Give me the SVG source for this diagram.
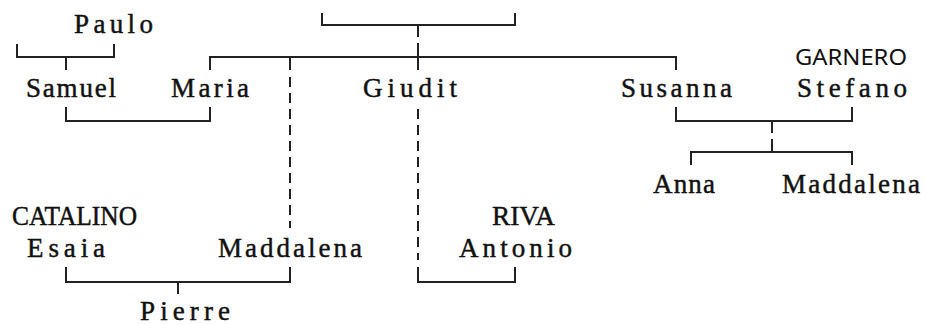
<svg xmlns="http://www.w3.org/2000/svg" width="925" height="325" viewBox="0 0 925 325">
<style>
.t{font-size:27px;fill:#111;stroke:#111;stroke-width:0.45}
.s{font-size:21px;fill:#111}
.c{fill:none;stroke:#222;stroke-width:2}
.d{fill:none;stroke:#222;stroke-width:2;stroke-dasharray:10 6}
</style>
<rect width="925" height="325" fill="#fff"/>
<g id="connectors">
<path class="c" d="M322,13V25H515V13M418,25V37M418,43V70"/>
<path class="c" d="M17,44V57H114V44M66,57V70"/>
<path class="c" d="M210,70V57H676V70M290,57V70"/>
<path class="d" d="M290,77V228"/>
<path class="c" d="M66,107V121H210V107"/>
<path class="d" d="M418,109V260"/>
<path class="c" d="M418,267V282H515V267"/>
<path class="c" d="M676,107V121H852V107M772,121V133M772,139V152"/>
<path class="c" d="M691,165V152H852V165"/>
<path class="c" d="M66,267V282H290V267M178,282V294"/>
</g>
<g font-family="Liberation Serif, serif">
<g id="paulo"><text class="t" x="74" y="33" textLength="79" lengthAdjust="spacing">Paulo</text></g>
<g id="samuel"><text class="t" x="26" y="97" textLength="90" lengthAdjust="spacing">Samuel</text></g>
<g id="maria"><text class="t" x="171" y="97" textLength="78" lengthAdjust="spacing">Maria</text></g>
<g id="giudit"><text class="t" x="363" y="97" textLength="94" lengthAdjust="spacing">Giudit</text></g>
<g id="susanna"><text class="t" x="621" y="97" textLength="111" lengthAdjust="spacing">Susanna</text></g>
<g id="stefano"><text class="s" font-family="Noto Sans, DejaVu Sans, sans-serif" x="795" y="65" textLength="112" lengthAdjust="spacingAndGlyphs">GARNERO</text><text class="t" x="797" y="97" textLength="110" lengthAdjust="spacing">Stefano</text></g>
<g id="anna"><text class="t" x="653" y="193" textLength="62" lengthAdjust="spacing">Anna</text></g>
<g id="maddalena2"><text class="t" x="782" y="193" textLength="138" lengthAdjust="spacing">Maddalena</text></g>
<g id="esaia"><text class="t" x="12" y="225" textLength="125" lengthAdjust="spacingAndGlyphs">CATALINO</text><text class="t" x="27" y="257" textLength="78" lengthAdjust="spacing">Esaia</text></g>
<g id="maddalena1"><text class="t" x="218" y="257" textLength="144" lengthAdjust="spacing">Maddalena</text></g>
<g id="antonio"><text class="t" x="492" y="225" textLength="63" lengthAdjust="spacingAndGlyphs">RIVA</text><text class="t" x="459" y="257" textLength="113" lengthAdjust="spacing">Antonio</text></g>
<g id="pierre"><text class="t" x="140" y="320" textLength="90" lengthAdjust="spacing">Pierre</text></g>
</g>
</svg>
